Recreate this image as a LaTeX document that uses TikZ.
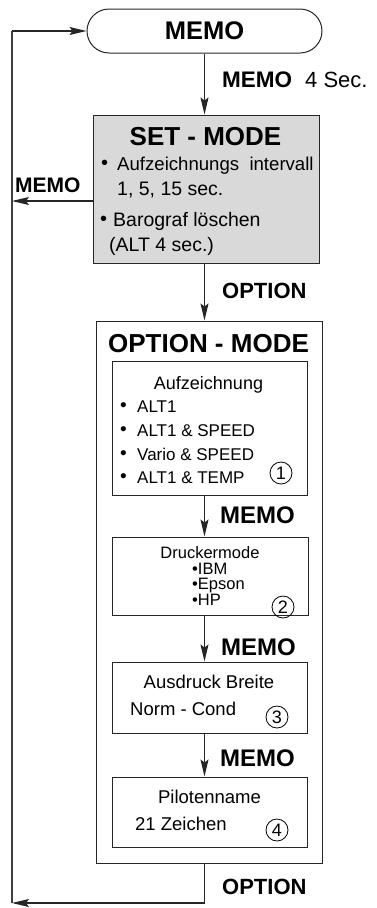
\documentclass[tikz,border=0pt]{standalone}
\usepackage{fontspec}
\setmainfont{Liberation Sans}
\usetikzlibrary{arrows.meta}
\newcommand\fsz[1]{\fontsize{#1}{#1}\selectfont}
\begin{document}
\begin{tikzpicture}[x=1pt,y=-1pt,
  box/.style={draw=black!85, line width=1pt, inner sep=0pt},
  arr/.style={draw=black!85, line width=1.2pt, -{Stealth[length=17pt,width=8pt,inset=3pt]}},
  ln/.style={draw=black!75, line width=1.2pt},
  tx/.style={anchor=base west, inner sep=0pt},
  tc/.style={anchor=base, inner sep=0pt},
  lab/.style={anchor=base west, inner sep=0pt, font=\bfseries\fsz{22}},
  circ/.style={draw=black, circle, line width=0.8pt, inner sep=0pt, minimum size=22pt, font=\fsz{18}}]
\useasboundingbox (0,0) rectangle (376,908);
\coordinate (L) at (12,0);
\coordinate (ax) at (204.5,0);
\coordinate (bot) at (12,903);
% main boxes
\node[box, rounded corners=22pt, minimum width=235pt, minimum height=44pt, font=\bfseries\fsz{25.5}] (memo) at (204.5,31) {MEMO};
\node[box, fill=black!15, minimum width=226pt, minimum height=148pt] (set) at (206,189) {};
\node[box, minimum width=226pt, minimum height=542pt] (opt) at (209,592) {};
\node[box, minimum width=195pt, minimum height=134pt] (b1) at (209.5,428) {};
\node[box, minimum width=196pt, minimum height=78pt] (b2) at (210,576) {};
\node[box, minimum width=195pt, minimum height=71pt] (b3) at (209.5,697.5) {};
\node[box, minimum width=195pt, minimum height=70pt] (b4) at (209.5,812) {};
% SET-MODE text
\node[tc, font=\bfseries\fsz{26}] (sett) at (205.5,145) {SET - MODE};
\node[tx, font=\fsz{20}] (sb1) at (101,169) {•};
\node[tx, font=\fsz{18.6}] (st1) at (117,170) {Aufzeichnungs\ \ intervall};
\node[tx, font=\fsz{19.5}] (st2) at (117,195) {1, 5, 15 sec.};
\node[tx, font=\fsz{20}] (sb2) at (100,225) {•};
\node[tx, font=\fsz{19.5}] (st3) at (113,226) {Barograf löschen};
\node[tx, font=\fsz{19.5}] (st4) at (109,251) {(ALT 4 sec.)};
% OPTION-MODE text
\node[tc, font=\bfseries\fsz{26}] (optt) at (208.5,352) {OPTION - MODE};
\node[tc, font=\fsz{18}] (a0) at (208.5,389) {Aufzeichnung};
\node[tx, font=\fsz{19}] (ab1) at (120,411) {•};
\node[tx, font=\fsz{17}] (a1) at (137,412) {ALT1};
\node[tx, font=\fsz{19}] (ab2) at (120,435) {•};
\node[tx, font=\fsz{17}] (a2) at (137,436) {ALT1 \& SPEED};
\node[tx, font=\fsz{19}] (ab3) at (120,459) {•};
\node[tx, font=\fsz{17}] (a3) at (137,460) {Vario \& SPEED};
\node[tx, font=\fsz{19}] (ab4) at (120,482) {•};
\node[tx, font=\fsz{17}] (a4) at (137,483) {ALT1 \& TEMP};
\node[circ] (c1) at (281,473) {1};
\node[tc, font=\fsz{16.5}] (d0) at (210,558) {Druckermode};
\node[tx, font=\fsz{16.5}] (d1) at (192,574) {•IBM};
\node[tx, font=\fsz{16.5}] (d2) at (192,589) {•Epson};
\node[tx, font=\fsz{16.5}] (d3) at (192,605) {•HP};
\node[circ] (c2) at (283,607) {2};
\node[tc, font=\fsz{18.5}] (e0) at (209,688) {Ausdruck Breite};
\node[tx, font=\fsz{18.5}] (e1) at (130,715) {Norm - Cond};
\node[circ] (c3) at (277,717) {3};
\node[tc, font=\fsz{18.5}] (f0) at (209.5,803) {Pilotenname};
\node[tx, font=\fsz{18.5}] (f1) at (135,830) {21 Zeichen};
\node[circ] (c4) at (277,830) {4};
% labels
\node[lab, font=\bfseries\fsz{22.5}] (l1) at (222,87) {MEMO\hspace{13pt}\mdseries\fsz{22}4 Sec.};
\node[lab, font=\bfseries\fsz{21}] (l2) at (15,192) {MEMO};
\node[lab] (l3) at (222,298) {OPTION};
\node[lab, font=\bfseries\fsz{24}] (l4) at (220,523) {MEMO};
\node[lab, font=\bfseries\fsz{24}] (l5) at (221,655) {MEMO};
\node[lab, font=\bfseries\fsz{24}] (l6) at (220,766) {MEMO};
\node[lab] (l7) at (222,894) {OPTION};
% arrows
\draw[arr] (memo.south) -- (memo.south |- set.north);
\draw[arr] ([yshift=-12pt]set.west) -- ([yshift=-12pt]set.west -| L);
\draw[arr] (set.south -| ax) -- (opt.north -| ax);
\draw[arr] (b1.south -| ax) -- (b2.north -| ax);
\draw[arr] (b2.south -| ax) -- (b3.north -| ax);
\draw[arr] (b3.south -| ax) -- (b4.north -| ax);
\draw[arr] (opt.south -| ax) |- (bot);
\draw[ln] (bot) -- (bot |- memo.west);
\draw[arr] (bot |- memo.west) -- (memo.west);
\end{tikzpicture}
\end{document}
